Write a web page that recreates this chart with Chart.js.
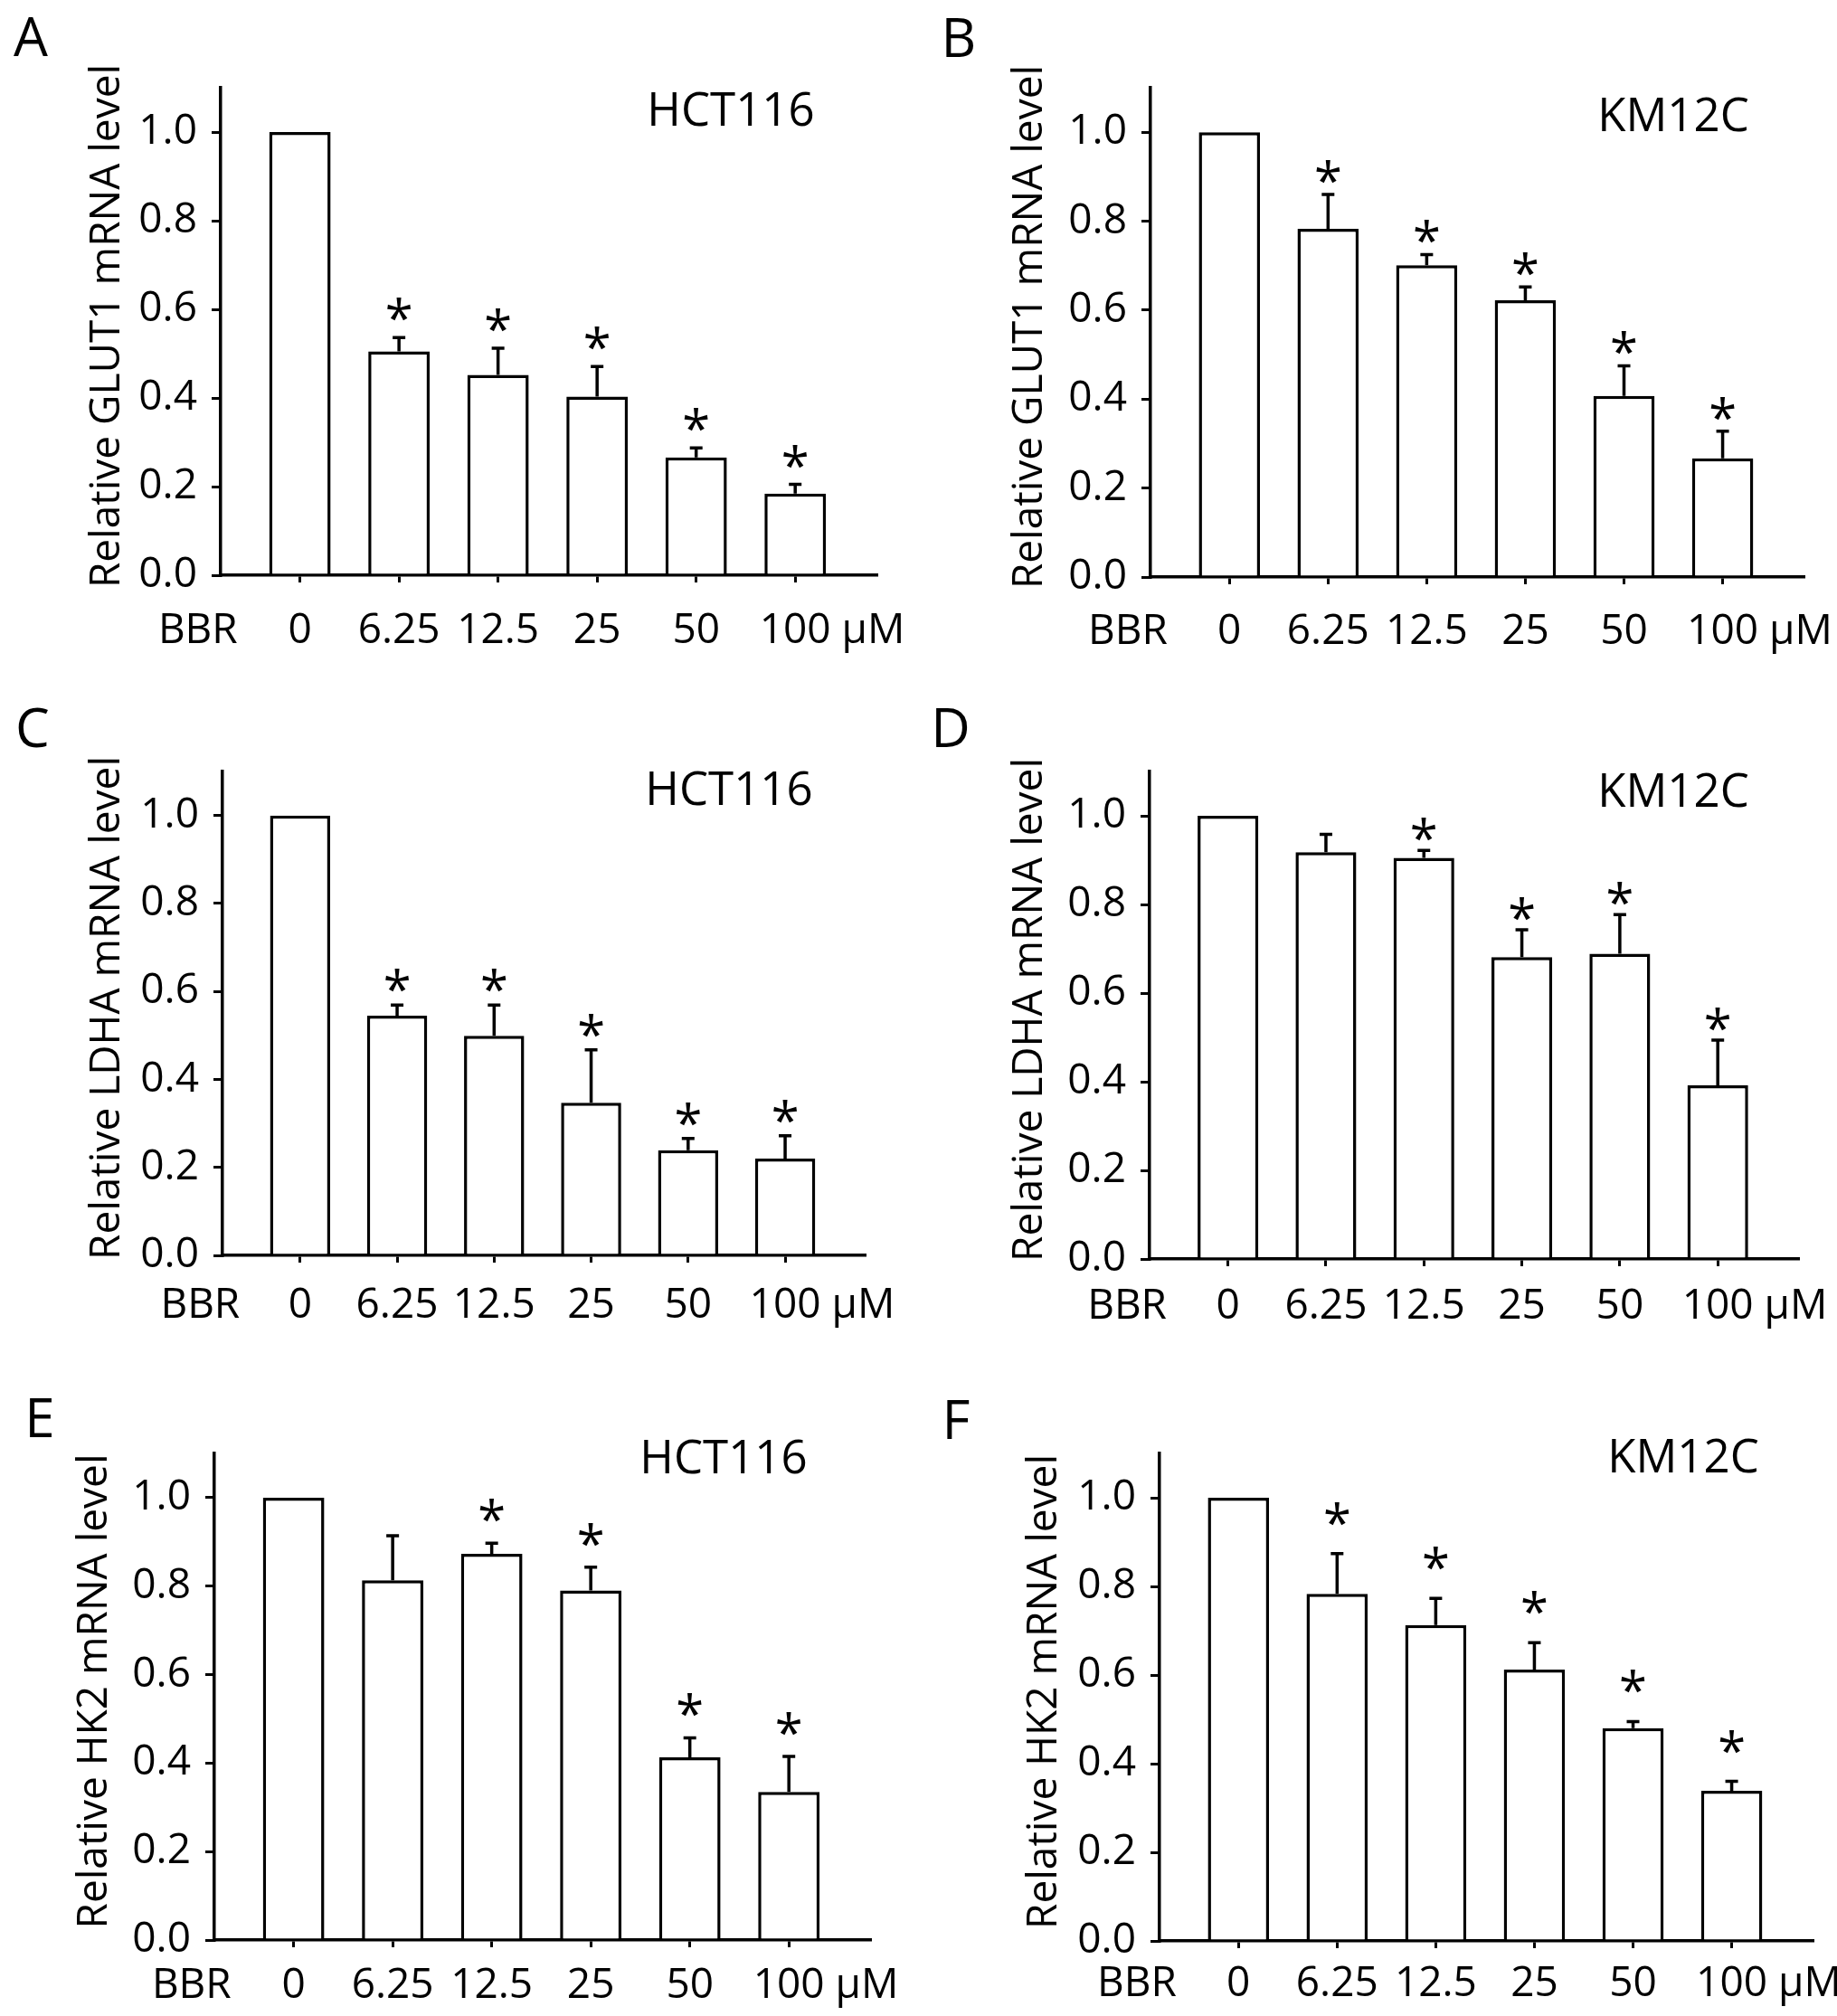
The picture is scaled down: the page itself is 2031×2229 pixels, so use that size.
<!DOCTYPE html>
<html>
<head>
<meta charset="utf-8">
<title>BBR mRNA levels</title>
<script src="https://cdn.jsdelivr.net/npm/chart.js@4.4.1/dist/chart.umd.min.js"></script>
<style>
  html, body { margin: 0; padding: 0; background: #fff; }
  #page { position: relative; width: 2031px; height: 2229px; overflow: hidden; }
  .panel { position: absolute; }
</style>
</head>
<body>
<div id="page"></div>
<script>
// Doses of BBR (x categories) and y tick values
const doses = ['0', '6.25', '12.5', '25', '50', '100'];
const yTicks = [0, 0.2, 0.4, 0.6, 0.8, 1.0];

// GLUT1
const glut1Hct = [1.0, 0.505, 0.452, 0.403, 0.266, 0.184];
const glut1HctErr = [0, 0.031, 0.060, 0.068, 0.021, 0.021];
const glut1HctStar = [0, 1, 1, 1, 1, 1];
const glut1Km = [1.0, 0.783, 0.701, 0.622, 0.407, 0.267];
const glut1KmErr = [0, 0.077, 0.024, 0.030, 0.068, 0.061];
const glut1KmStar = [0, 1, 1, 1, 1, 1];

// LDHA
const ldhaHct = [1.0, 0.545, 0.499, 0.347, 0.239, 0.220];
const ldhaHctErr = [0, 0.024, 0.070, 0.120, 0.027, 0.052];
const ldhaHctStar = [0, 1, 1, 1, 1, 1];
const ldhaKm = [1.0, 0.918, 0.905, 0.681, 0.689, 0.392];
const ldhaKmErr = [0, 0.040, 0.017, 0.062, 0.088, 0.102];
const ldhaKmStar = [0, 0, 1, 1, 1, 1];

// HK2
const hk2Hct = [1.0, 0.813, 0.873, 0.790, 0.413, 0.335];
const hk2HctErr = [0, 0.101, 0.024, 0.053, 0.044, 0.080];
const hk2HctStar = [0, 0, 1, 1, 1, 1];
const hk2Km = [1.0, 0.783, 0.713, 0.612, 0.480, 0.339];
const hk2KmErr = [0, 0.091, 0.060, 0.061, 0.015, 0.021];
const hk2KmStar = [0, 1, 1, 1, 1, 1];

const FONT = '"Open Sans", "Noto Sans", sans-serif';

const panels = [
  { letter: 'A', cell: 'HCT116', yTitle: 'Relative GLUT1 mRNA level', values: glut1Hct, errors: glut1HctErr, stars: glut1HctStar,
    box: [0, 0, 1015, 740], axes: [244, 969, 97, 636], titleAt: [808, 120], letterAt: [34, 40], yTitleX: 114, labelPad: 26, starGap: 31 },
  { letter: 'B', cell: 'KM12C', yTitle: 'Relative GLUT1 mRNA level', values: glut1Km, errors: glut1KmErr, stars: glut1KmStar,
    box: [1015, 0, 1016, 740], axes: [257, 979, 97, 638], titleAt: [835, 126], letterAt: [45, 41], yTitleX: 119, labelPad: 25, starGap: 25 },
  { letter: 'C', cell: 'HCT116', yTitle: 'Relative LDHA mRNA level', values: ldhaHct, errors: ldhaHctErr, stars: ldhaHctStar,
    box: [0, 740, 1015, 740], axes: [246, 956, 113, 648], titleAt: [806, 131], letterAt: [36, 64], yTitleX: 114, labelPad: 20, starGap: 27 },
  { letter: 'D', cell: 'KM12C', yTitle: 'Relative LDHA mRNA level', values: ldhaKm, errors: ldhaKmErr, stars: ldhaKmStar,
    box: [1015, 740, 1016, 740], axes: [256, 973, 113, 652], titleAt: [835, 133], letterAt: [36, 64], yTitleX: 119, labelPad: 17, starGap: 23 },
  { letter: 'E', cell: 'HCT116', yTitle: 'Relative HK2 mRNA level', values: hk2Hct, errors: hk2HctErr, stars: hk2HctStar,
    box: [0, 1480, 1015, 749], axes: [237, 962, 127, 665], titleAt: [800, 130], letterAt: [44, 87], yTitleX: 100, labelPad: 15, starGap: 36 },
  { letter: 'F', cell: 'KM12C', yTitle: 'Relative HK2 mRNA level', values: hk2Km, errors: hk2KmErr, stars: hk2KmStar,
    box: [1015, 1480, 1016, 749], axes: [267, 989, 127, 666], titleAt: [846, 129], letterAt: [42, 89], yTitleX: 135, labelPad: 12, starGap: 44 }
];

const TICK_SIZE = 46;

// draw text centred on its glyph box
function drawCentered(ctx, text, cx, cy) {
  const m = ctx.measureText(text);
  const asc = m.actualBoundingBoxAscent, desc = m.actualBoundingBoxDescent;
  ctx.textAlign = 'center';
  ctx.textBaseline = 'alphabetic';
  ctx.fillText(text, cx, cy + (asc - desc) / 2);
}

function makeChart(p) {
  const [bx, by, bw, bh] = p.box;
  const [axL, axR, axT, axB] = p.axes;

  const wrap = document.createElement('div');
  wrap.className = 'panel';
  wrap.style.left = bx + 'px';
  wrap.style.top = by + 'px';
  wrap.style.width = bw + 'px';
  wrap.style.height = bh + 'px';
  const canvas = document.createElement('canvas');
  wrap.appendChild(canvas);
  document.getElementById('page').appendChild(wrap);

  const decor = {
    id: 'decor' + p.letter,
    afterDatasetsDraw(chart) {
      const ctx = chart.ctx;
      const y = chart.scales.y;
      const bars = chart.getDatasetMeta(0).data;
      ctx.save();
      ctx.strokeStyle = '#000';
      ctx.fillStyle = '#000';
      ctx.lineWidth = 3.5;
      ctx.font = '56px ' + FONT;
      p.values.forEach((v, i) => {
        const x = bars[i].x;
        const yBar = y.getPixelForValue(v);
        const yTop = y.getPixelForValue(v + p.errors[i]);
        if (p.errors[i] > 0) {
          ctx.beginPath();
          ctx.moveTo(x, yBar);
          ctx.lineTo(x, yTop);
          ctx.moveTo(x - 7, yTop);
          ctx.lineTo(x + 7, yTop);
          ctx.stroke();
        }
        if (p.stars[i]) {
          drawCentered(ctx, '*', x, yTop - p.starGap);
        }
      });
      ctx.restore();
    },
    afterDraw(chart) {
      const ctx = chart.ctx;
      const xs = chart.scales.x;
      const area = chart.chartArea;
      ctx.save();
      ctx.fillStyle = '#000';

      // panel letter
      ctx.font = '60px ' + FONT;
      drawCentered(ctx, p.letter, p.letterAt[0], p.letterAt[1]);

      // cell line
      ctx.font = '51px ' + FONT;
      drawCentered(ctx, p.cell, p.titleAt[0], p.titleAt[1]);

      // y axis title
      ctx.font = '46px ' + FONT;
      ctx.save();
      ctx.translate(p.yTitleX, (area.top + area.bottom) / 2 - 6);
      ctx.rotate(-Math.PI / 2);
      drawCentered(ctx, p.yTitle, 0, 0);
      ctx.restore();

      // BBR and unit next to the tick labels
      ctx.font = TICK_SIZE + 'px ' + FONT;
      ctx.textBaseline = 'middle';
      const ly = axB + 8 + p.labelPad + TICK_SIZE * 1.2 / 2;
      ctx.textAlign = 'center';
      ctx.fillText('BBR', xs.getPixelForValue(-1.03), ly);
      const x100 = xs.getPixelForValue(doses.length - 1);
      ctx.textAlign = 'left';
      ctx.fillText('\u03BCM', x100 + ctx.measureText('100').width / 2 + ctx.measureText(' ').width, ly);
      ctx.restore();
    }
  };

  return new Chart(canvas, {
    type: 'bar',
    data: {
      datasets: [{
        data: p.values.map((v, i) => ({ x: i, y: v })),
        backgroundColor: '#fff',
        borderColor: '#000',
        borderWidth: 3.5,
        borderSkipped: 'bottom',
        barPercentage: 0.62,
        categoryPercentage: 1
      }]
    },
    options: {
      responsive: true,
      maintainAspectRatio: false,
      animation: false,
      devicePixelRatio: 1,
      layout: { padding: { left: 0, top: axT, right: bw - axR, bottom: 0 } },
      plugins: { legend: { display: false }, tooltip: { enabled: false } },
      scales: {
        x: {
          type: 'linear',
          offset: false,
          min: -0.8,
          max: 5.82,
          afterBuildTicks: s => { s.ticks = doses.map((d, i) => ({ value: i })); },
          afterFit: s => { s.height = bh - axB; },
          ticks: {
            autoSkip: false,
            maxRotation: 0,
            padding: p.labelPad,
            color: '#000',
            font: { family: FONT, size: TICK_SIZE },
            callback: v => doses[v]
          },
          grid: { offset: false, drawOnChartArea: false, drawTicks: true, tickLength: 8, lineWidth: 3, color: '#000' },
          border: { display: true, color: '#000', width: 3.5 }
        },
        y: {
          min: 0,
          max: 1.1,
          afterBuildTicks: s => { s.ticks = yTicks.map(v => ({ value: v })); },
          afterFit: s => { s.width = axL; },
          ticks: {
            padding: 16,
            color: '#000',
            font: { family: FONT, size: TICK_SIZE },
            callback: v => v.toFixed(1)
          },
          grid: { drawOnChartArea: false, drawTicks: true, tickLength: 10, lineWidth: 3, color: '#000' },
          border: { display: true, color: '#000', width: 3.5 }
        }
      }
    },
    plugins: [decor]
  });
}

panels.forEach(makeChart);
</script>
</body>
</html>
